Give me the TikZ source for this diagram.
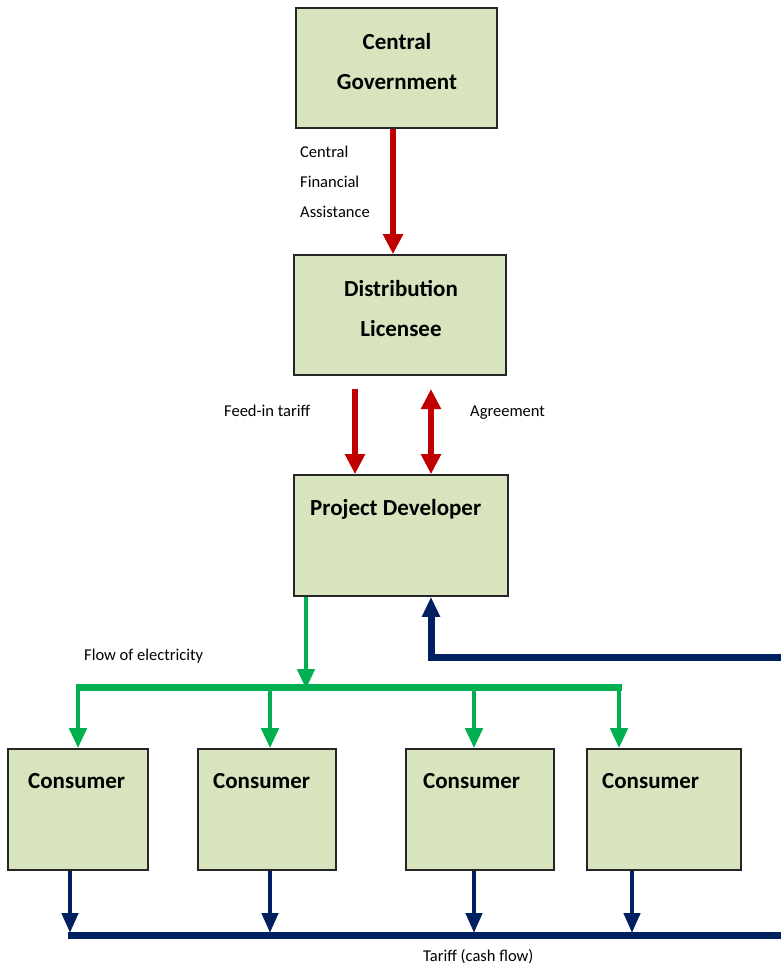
\documentclass[tikz,border=0pt]{standalone}
\usepackage{fontspec}
\setmainfont{Carlito}
\usepackage{tikz}
\usetikzlibrary{arrows.meta,positioning}

\definecolor{boxfill}{HTML}{D7E4BD}
\definecolor{flowred}{HTML}{C00000}
\definecolor{flowgreen}{HTML}{00B050}
\definecolor{flownavy}{HTML}{002060}

\tikzset{
  box/.style={draw=black!85, line width=1.6pt, fill=boxfill, inner sep=0pt},
  boxtxt/.style={font=\fontsize{23}{40}\selectfont\bfseries, align=center, inner sep=0pt},
  lbl/.style={font=\fontsize{16.5}{30}\selectfont, align=left, inner sep=0pt},
  tip/.style={-{Triangle[width=19pt,length=20pt]}},
  redarrow/.style={draw=flowred, line width=5.5pt, tip},
  greenarrow/.style={draw=flowgreen, line width=4.5pt, -{Triangle[width=17pt,length=20pt]}},
  bluearrow/.style={draw=flownavy, line width=4.5pt, -{Triangle[width=16pt,length=20pt]}},
}

\begin{document}
\begin{tikzpicture}[x=1pt,y=-1pt]
   \useasboundingbox (0,0) rectangle (781,970);
   \clip (0,0) rectangle (781,970);

   % boxes
   \node[box, minimum width=201pt, minimum height=120pt] (cg) at (396.5,68) {};
   \node[box, minimum width=212pt, minimum height=120pt] (dl) at (400,315) {};
   \node[box, minimum width=214pt, minimum height=121pt] (pd) at (401,535.5) {};
   \node[box, minimum width=140pt, minimum height=121pt] (c1) at (78,809.5) {};
   \node[box, minimum width=138pt, minimum height=121pt] (c2) at (267,809.5) {};
   \node[box, minimum width=148pt, minimum height=121pt] (c3) at (480,809.5) {};
   \node[box, minimum width=154pt, minimum height=121pt] (c4) at (664,809.5) {};

   % box texts
   \node[boxtxt, anchor=base] (cg-t) at (397,89) {Central\\Government};
   \node[boxtxt, anchor=base] (dl-t) at (401,336) {Distribution\\Licensee};
   \node[boxtxt, anchor=base west] (pd-t) at (310,515) {Project Developer};
   \node[boxtxt, anchor=base west] (c1-t) at (28,788) {Consumer};
   \node[boxtxt, anchor=base west] (c2-t) at (213,788) {Consumer};
   \node[boxtxt, anchor=base west] (c3-t) at (423,788) {Consumer};
   \node[boxtxt, anchor=base west] (c4-t) at (602,788) {Consumer};

   % red flows
   \draw[redarrow] (cg.south -| 393,0) -- (dl.north -| 393,0);
   \node[lbl, anchor=north west] (cfa) at (300,146) {Central\\Financial\\Assistance};

   \coordinate (fit) at (355,389);
   \coordinate (agr) at (431,389);
   \draw[redarrow] (fit) -- (fit |- pd.north);
   \draw[redarrow, {Triangle[width=19pt,length=20pt]}-{Triangle[width=19pt,length=20pt]}] (agr) -- (agr |- pd.north);
   \node[lbl, anchor=base west] (fit-l) at (224,416) {Feed-in tariff};
   \node[lbl, anchor=base west] (agr-l) at (470,416) {Agreement};

   % electricity
   \coordinate (gbus) at (306,687);
   \draw[greenarrow, shorten >=-2pt] (pd.south -| gbus) -- (gbus);
   \draw[flowgreen, line width=7pt] (75.5,687) -- (621.5,687);
   \foreach \x/\c in {78/c1,270/c2,474/c3,619/c4}
     \draw[greenarrow] (\x,687) -- (\c.north -| \x,0);
   \node[lbl, anchor=base west] (elec) at (84,660) {Flow of electricity};

   % cash flow
   \foreach \x/\c in {70/c1,270/c2,474/c3,632/c4}
     \draw[bluearrow, shorten >=-1pt] (\c.south -| \x,0) -- (\x,932);
   \draw[bluearrow, line width=7pt, -{Triangle[width=17pt,length=20pt]}] (68,935) -- (800,935) -- (800,657) -| (pd.south -| 431,0);
   \node[lbl, anchor=base west] (cash) at (423,961) {Tariff (cash flow)};
\end{tikzpicture}
\end{document}
